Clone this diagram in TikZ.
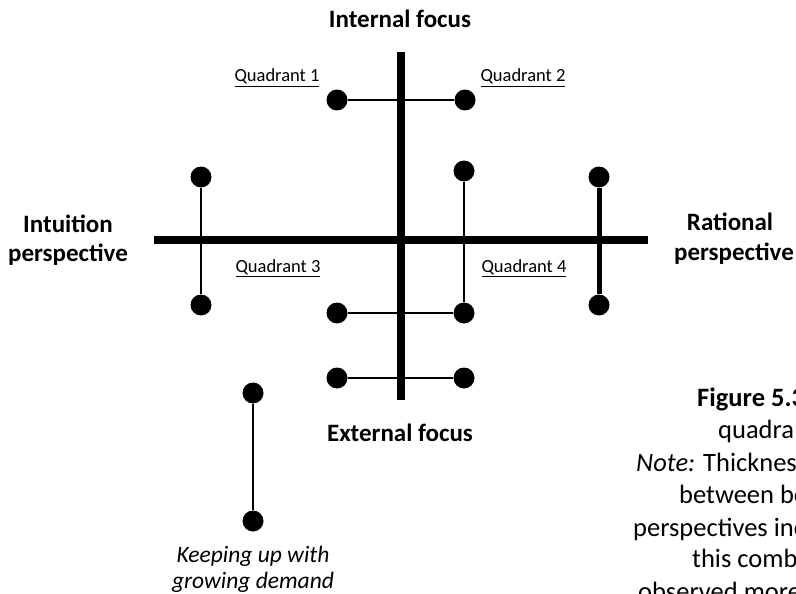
\documentclass[tikz,border=0pt]{standalone}
\usepackage{fontspec}
\setmainfont{Carlito}
\begin{document}
\begin{tikzpicture}[x=1pt,y=-1pt,
  dot/.style={circle,fill=black,minimum size=21pt,inner sep=0pt},
  axis/.style={line width=7.5pt},
  thin link/.style={line width=1.8pt},
  thick link/.style={line width=5pt},
  axislabel/.style={font=\fontsize{25}{30}\selectfont\bfseries,align=center,inner sep=0pt},
  quad/.style={font=\fontsize{18.5}{22}\selectfont,anchor=base,inner sep=0pt},
  italiclabel/.style={font=\fontsize{23.5}{26}\selectfont\itshape,anchor=base,inner sep=0pt},
  caption/.style={font=\fontsize{26.5}{32}\selectfont,anchor=base west,inner sep=0pt}]
\useasboundingbox (0,0) rectangle (796,594);
\clip (0,0) rectangle (796,594);

% axes
\coordinate (vtop) at (401,52);
\coordinate (vbot) at (401,400);
\coordinate (hleft) at (154,240);
\coordinate (hright) at (648,240);
\draw[axis] (vtop) -- (vbot);
\draw[axis] (hleft) -- (hright);

% axis labels
\node[axislabel,anchor=base] (internal) at (400,28) {Internal focus};
\node[axislabel,anchor=base] (external) at (400,441) {External focus};
\node[axislabel,anchor=base] (intuition1) at (68,232) {Intuition};
\node[axislabel,anchor=base] (intuition2) at (68,261) {perspective};
\node[axislabel,anchor=base] (rational1) at (730,230) {Rational};
\node[axislabel,anchor=base] (rational2) at (734,260) {perspective};

% quadrant labels
\node[quad] (q1) at (277,82) {\underline{Quadrant 1}};
\node[quad] (q2) at (523,82) {\underline{Quadrant 2}};
\node[quad] (q3) at (278,272) {\underline{Quadrant 3}};
\node[quad] (q4) at (524,272) {\underline{Quadrant 4}};

% dots
\node[dot] (a1) at (337,100) {};
\node[dot] (a2) at (465,100) {};
\node[dot] (b1) at (464,171) {};
\node[dot] (b2) at (464,313) {};
\node[dot] (c1) at (201,177) {};
\node[dot] (c2) at (201,305) {};
\node[dot] (d1) at (599,177) {};
\node[dot] (d2) at (599,305) {};
\node[dot] (e1) at (337,313) {};
\node[dot] (f1) at (337,378) {};
\node[dot] (f2) at (464,378) {};
\node[dot] (g1) at (253,393) {};
\node[dot] (g2) at (253,521) {};

% links between dots
\draw[thin link] (a1) -- (a2);
\draw[thin link] (b1) -- (b2);
\draw[thin link] (c1) -- (c2);
\draw[thick link] (d1) -- (d2);
\draw[thin link] (e1) -- (b2);
\draw[thin link] (f1) -- (f2);
\draw[thin link] (g1) -- (g2);

% label under the free-standing pair
\node[italiclabel] (keep1) at (253,562) {Keeping up with};
\node[italiclabel] (keep2) at (253,588) {growing demand};

% caption lines, running past the right edge
\node[caption] (cap1) at (697,406) {\textbf{Figure 5.3}};
\node[caption] (cap2) at (718,438) {quadra};
\node[caption] (cap3) at (636,471) {\textit{Note:} Thicknes};
\node[caption] (cap4) at (679,503) {between be};
\node[caption] (cap5) at (633,536) {perspectives inc};
\node[caption] (cap6) at (692,567) {this comb};
\node[caption] (cap7) at (638,600) {observed more};
\end{tikzpicture}
\end{document}
